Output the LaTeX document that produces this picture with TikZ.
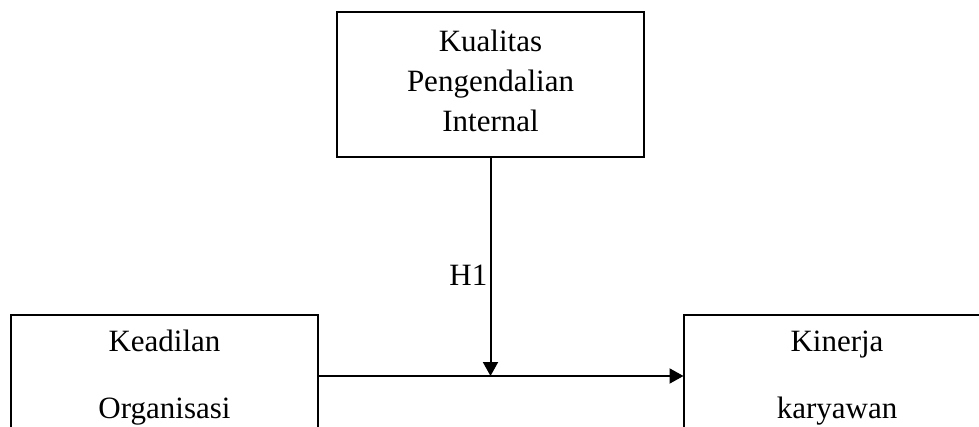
\documentclass[tikz,border=0pt]{standalone}
\usepackage{fontspec}
\setmainfont{Liberation Serif}
\usetikzlibrary{arrows.meta}
\begin{document}
\begin{tikzpicture}[x=1pt,y=-1pt,
  box/.style={draw,line width=2pt,inner sep=0pt,outer sep=0pt},
  lbl/.style={font=\fontsize{31}{37}\selectfont,anchor=base,inner sep=0pt},
  arr/.style={line width=2pt,-{Triangle[width=15pt,length=14pt]}}]
\clip (0,0) rectangle (979,427);
\node[box,minimum width=307pt,minimum height=144.5pt] (top) at (490.5,84.75) {};
\node[box,minimum width=307pt,minimum height=165pt] (left) at (164.5,397.5) {};
\node[box,minimum width=307pt,minimum height=165pt] (right) at (837,397.5) {};
\node[lbl] (t1) at (490.5,52) {Kualitas};
\node[lbl] (t2) at (490.5,92) {Pengendalian};
\node[lbl] (t3) at (490.5,132) {Internal};
\node[lbl] (l1) at (164.5,352) {Keadilan};
\node[lbl] (l2) at (164.5,418) {Organisasi};
\node[lbl] (r1) at (837,352) {Kinerja};
\node[lbl] (r2) at (837,418) {karyawan};
\coordinate (m) at (490.5,376);
\draw[arr] (top.south) -- (m);
\draw[arr] (left.east |- m) -- (right.west |- m);
\node[lbl,anchor=base east] (h1) at (487.5,286) {H1};
\end{tikzpicture}
\end{document}
